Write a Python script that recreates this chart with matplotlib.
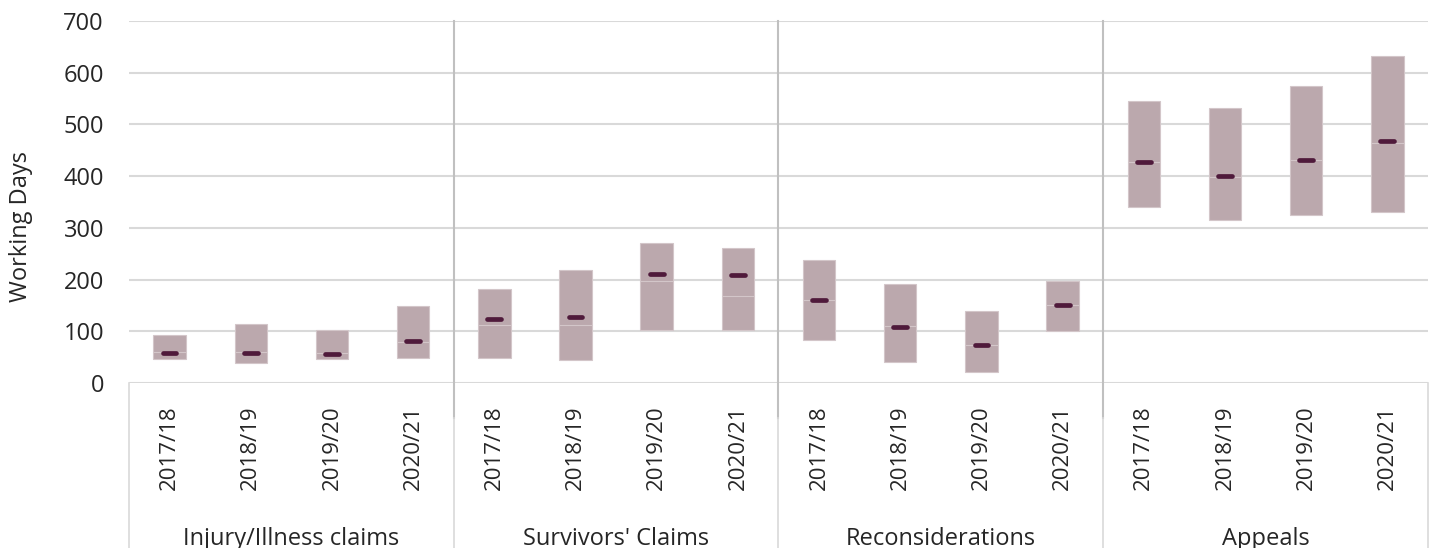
import numpy as np
import matplotlib
matplotlib.use('Agg')
import matplotlib.pyplot as plt

plt.rcParams['font.family'] = ['Open Sans', 'DejaVu Sans']

categories = ["Injury/Illness claims", "Survivors' Claims", "Reconsiderations", "Appeals"]
years = ['2017/18', '2018/19', '2019/20', '2020/21']

# working days: bottom and top of range, segment split, marker value
low = [46, 39, 46, 48, 48, 44, 102, 102, 84, 41, 21, 100, 341, 315, 325, 330]
high = [93, 115, 102, 148, 181, 219, 270, 261, 237, 191, 140, 198, 545, 532, 575, 632]
split = [59, 59, 58, 80, 113, 113, 197, 169, 160, 111, 74, 150, 428, 399, 431, 465]
median = [58, 58, 56, 81, 124, 127, 211, 208, 161, 109, 73, 150, 427, 401, 431, 468]

BAR_COLOR = '#BBA8AD'
MARK_COLOR = '#4F1A3B'
GRID_COLOR = '#D9D9D9'
SEP_COLOR = '#C0C0C0'
TEXT_COLOR = '#262626'

low = np.array(low)
high = np.array(high)
x = np.arange(len(low))
n_years = len(years)

fig = plt.figure(figsize=(14.33, 5.48), dpi=100)
ax = fig.add_axes([0.0900, 0.3011, 0.9065, 0.6606])

ax.bar(x, high - low, bottom=low, width=0.40, color=BAR_COLOR,
       edgecolor='#D3C6C9', linewidth=0.8, zorder=2)
ax.hlines(split, x - 0.2, x + 0.2, color='#D3C6C9', linewidth=0.8, zorder=3)
ax.hlines(median, x - 0.085, x + 0.085, color=MARK_COLOR, linewidth=3.4,
          capstyle='round', zorder=4)

ax.set_xlim(-0.5, len(low) - 0.5)
ax.set_ylim(0, 700)
ax.set_yticks(np.arange(0, 701, 100))
ax.yaxis.grid(color=GRID_COLOR, linewidth=1.5)
ax.set_axisbelow(True)
for s in ax.spines.values():
    s.set_visible(False)
ax.tick_params(axis='y', length=0, pad=18, labelsize=17, labelcolor=TEXT_COLOR)

ax.set_xticks(x, years * len(categories), rotation=90)
ax.tick_params(axis='x', length=0, pad=16, labelsize=16, labelcolor=TEXT_COLOR)

ax.set_ylabel('Working Days', fontsize=17, color=TEXT_COLOR)
ax.yaxis.set_label_coords(-0.074, 0.431)

# category table below the axis
trans = ax.get_xaxis_transform()
for i in range(1, len(categories)):
    xs = i * n_years - 0.5
    ax.plot([xs, xs], [1, -0.097], color=SEP_COLOR, linewidth=1.5,
            transform=trans, clip_on=False)
    ax.plot([xs, xs], [-0.097, -0.46], color=GRID_COLOR, linewidth=1.2,
            transform=trans, clip_on=False)
for xs in [-0.5, len(low) - 0.5]:
    ax.plot([xs, xs], [0, -0.46], color=GRID_COLOR, linewidth=1.2,
            transform=trans, clip_on=False)

for i, cat in enumerate(categories):
    ax.text(i * n_years + (n_years - 1) / 2, -0.43, cat, transform=trans,
            ha='center', va='center', fontsize=17, color=TEXT_COLOR)

plt.savefig('out.png', dpi=100)
